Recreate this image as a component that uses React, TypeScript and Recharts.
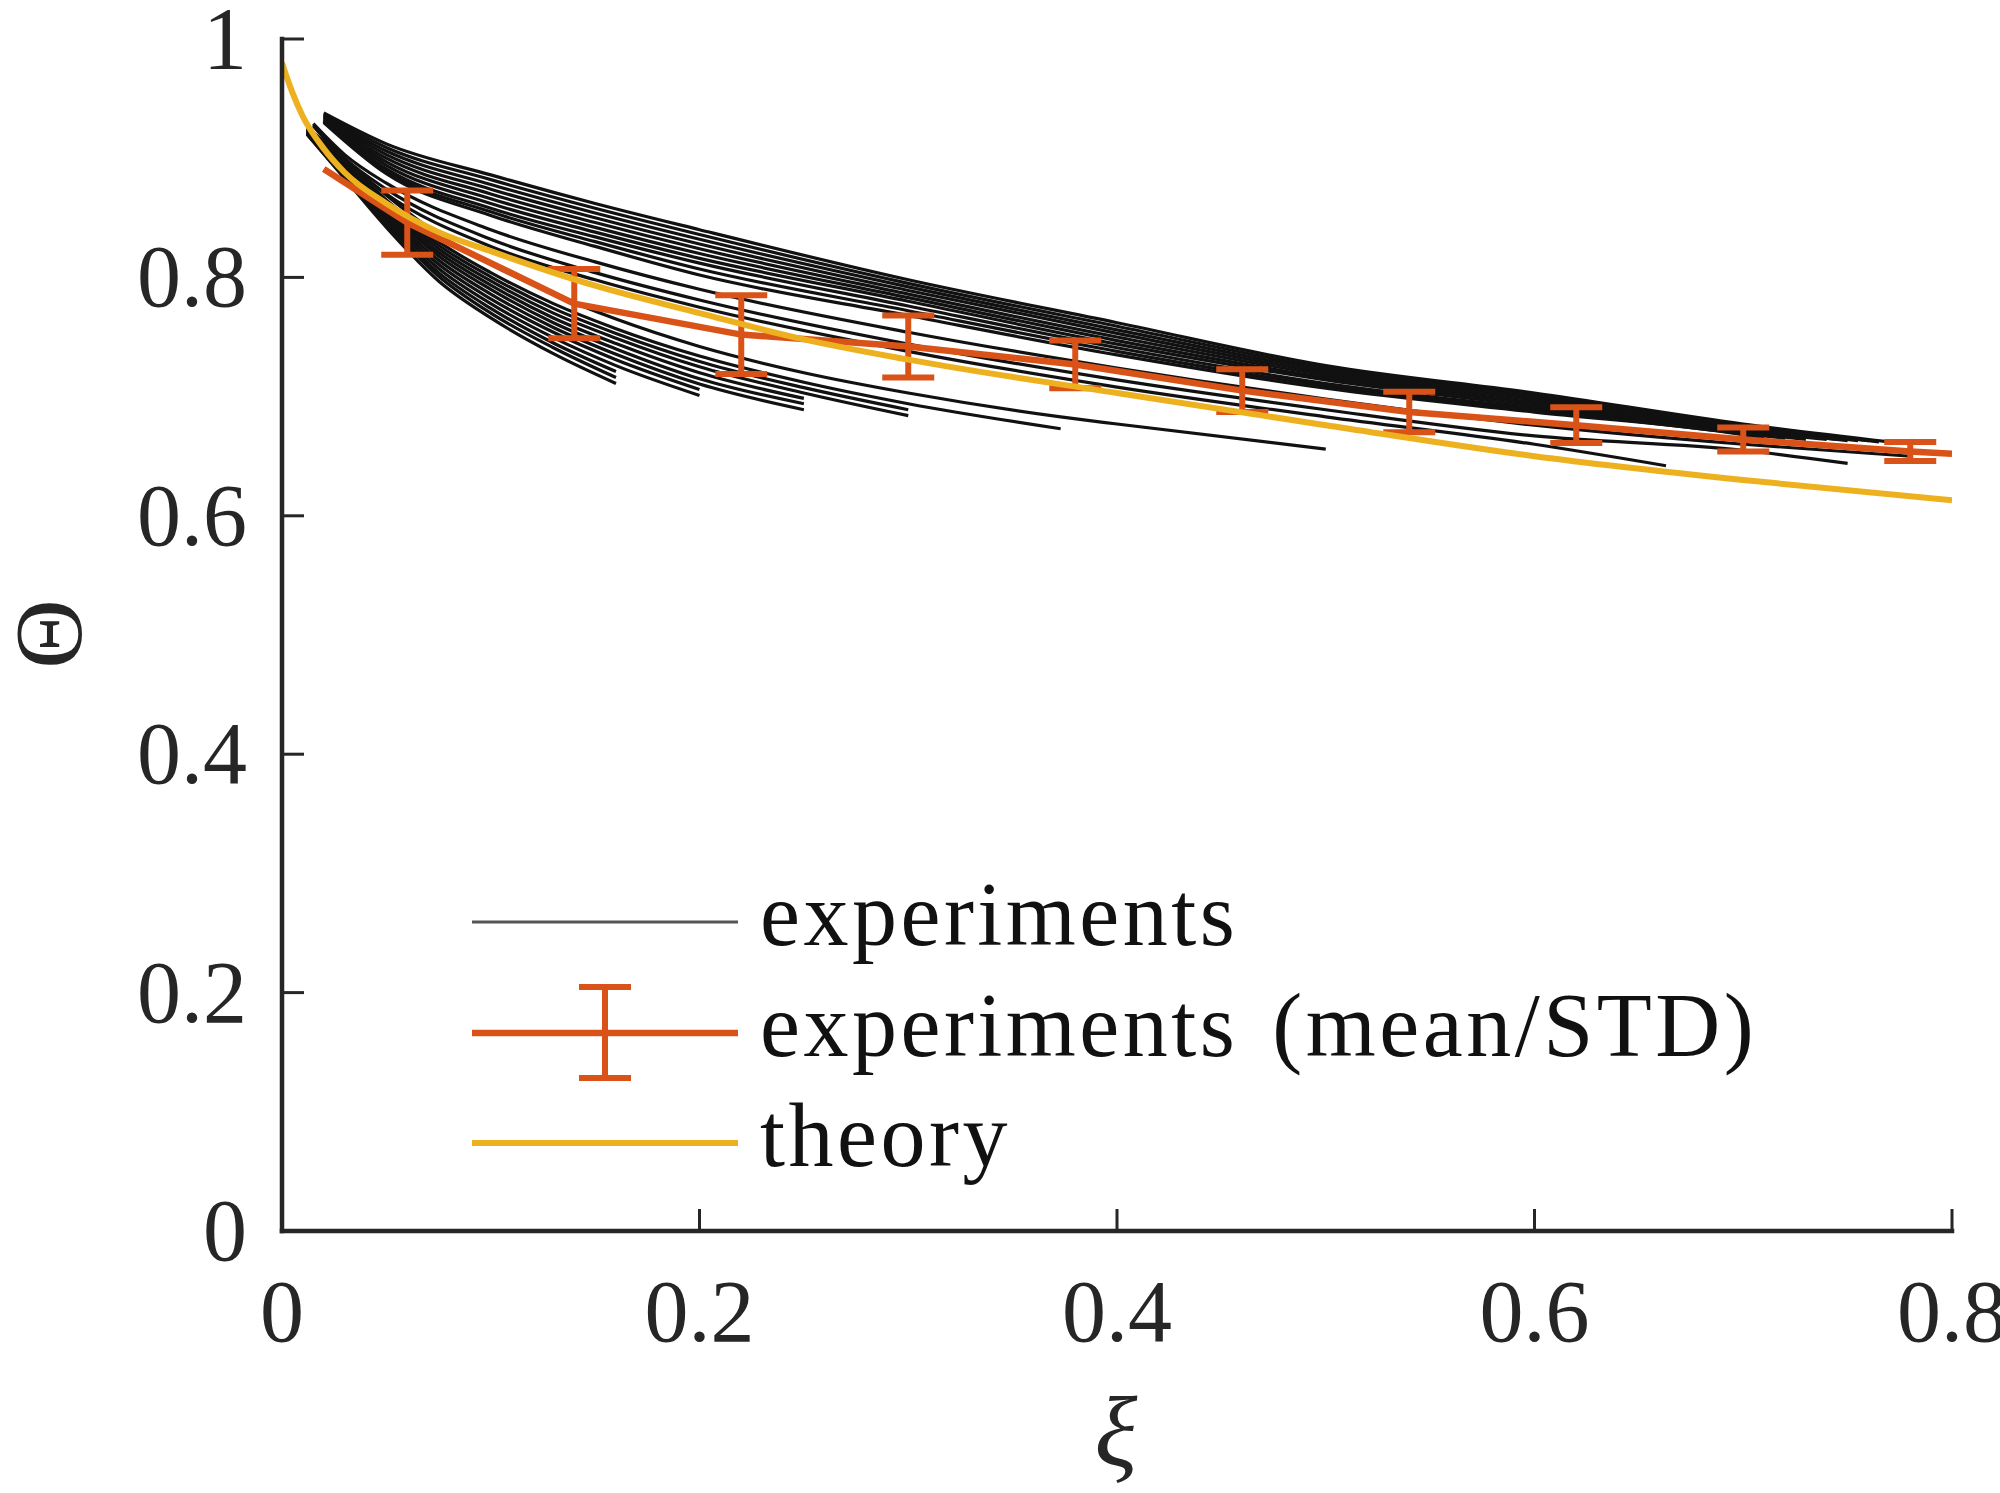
import React from 'react'
import { LineChart, Line, XAxis, YAxis, ErrorBar } from 'recharts'

const FONT = '"Liberation Serif", "Times New Roman", serif'
const AXIS = '#262626'
const ORANGE = '#D95319'
const YELLOW = '#EDB120'
const BLACK = '#111111'

const xTicks = [0, 0.2, 0.4, 0.6, 0.8]
const yTicks = [0, 0.2, 0.4, 0.6, 0.8, 1]

// theory curve
const theoryXi = [0, 0.005, 0.01, 0.02, 0.03, 0.05, 0.075, 0.1, 0.15, 0.2, 0.25, 0.3, 0.4, 0.5, 0.6, 0.7, 0.8]
const theoryTheta = [0.98, 0.955, 0.935, 0.908, 0.888, 0.862, 0.838, 0.822, 0.793, 0.77, 0.748, 0.731, 0.703, 0.676, 0.65, 0.63, 0.613]

// experiments mean / STD
const meanXi = [0.02, 0.06, 0.14, 0.22, 0.3, 0.38, 0.46, 0.54, 0.62, 0.7, 0.78, 0.8]
const meanTheta = [0.891, 0.846, 0.778, 0.752, 0.742, 0.727, 0.705, 0.687, 0.676, 0.664, 0.654, 0.652]
const stdTheta = [null, 0.027, 0.029, 0.033, 0.026, 0.02, 0.018, 0.017, 0.015, 0.01, 0.008, null]

// individual experiments, upper band (long runs)
const upperXi = [0.02, 0.05, 0.1, 0.15, 0.2, 0.3, 0.4, 0.5, 0.6, 0.7]
const upperEndXi = [0.77, 0.765, 0.76, 0.755, 0.75, 0.745, 0.74, 0.73, 0.72, 0.71]
const upperTheta = [
  [0.938, 0.912, 0.886, 0.862, 0.84, 0.798, 0.762, 0.726, 0.703, 0.677, 0.662],
  [0.937, 0.909, 0.882, 0.858, 0.836, 0.795, 0.759, 0.724, 0.701, 0.676, 0.662],
  [0.936, 0.906, 0.878, 0.854, 0.832, 0.792, 0.756, 0.722, 0.699, 0.675, 0.663],
  [0.935, 0.903, 0.874, 0.85, 0.828, 0.789, 0.753, 0.72, 0.697, 0.674, 0.663],
  [0.934, 0.9, 0.87, 0.846, 0.824, 0.786, 0.75, 0.718, 0.695, 0.673, 0.663],
  [0.933, 0.897, 0.866, 0.842, 0.82, 0.783, 0.747, 0.716, 0.694, 0.672, 0.664],
  [0.932, 0.894, 0.862, 0.838, 0.816, 0.78, 0.744, 0.714, 0.692, 0.671, 0.664],
  [0.931, 0.891, 0.858, 0.834, 0.812, 0.776, 0.741, 0.711, 0.69, 0.67, 0.664],
  [0.931, 0.889, 0.855, 0.83, 0.807, 0.772, 0.738, 0.709, 0.689, 0.669, 0.665],
  [0.93, 0.887, 0.852, 0.826, 0.802, 0.768, 0.735, 0.707, 0.687, 0.668, 0.665]
]

// runs close to the theory curve
const nearXi = [
  [0.015, 0.03, 0.05, 0.1, 0.15, 0.2, 0.3, 0.4, 0.5, 0.6, 0.663],
  [0.015, 0.03, 0.05, 0.1, 0.15, 0.2, 0.3, 0.4, 0.5, 0.6, 0.7, 0.75],
  [0.015, 0.03, 0.05, 0.1, 0.15, 0.2, 0.3, 0.4, 0.5, 0.6, 0.7, 0.78]
]
const nearTheta = [
  [0.927, 0.898, 0.87, 0.826, 0.798, 0.775, 0.738, 0.708, 0.683, 0.66, 0.642],
  [0.928, 0.9, 0.874, 0.832, 0.804, 0.781, 0.744, 0.714, 0.689, 0.667, 0.655, 0.644],
  [0.929, 0.903, 0.879, 0.84, 0.813, 0.79, 0.754, 0.724, 0.698, 0.676, 0.66, 0.65]
]

// lower band (short, steep runs)
const lowerXi = [0.012, 0.03, 0.05, 0.075, 0.1, 0.13, 0.16, 0.2, 0.25, 0.3, 0.373, 0.4, 0.5]
const lowerTheta = [
  [0.92, 0.883, 0.842, 0.797, 0.766, 0.736, 0.711],
  [0.9205, 0.884, 0.845, 0.801, 0.77, 0.741, 0.716],
  [0.921, 0.886, 0.847, 0.804, 0.774, 0.745, 0.721],
  [0.9215, 0.8875, 0.8495, 0.8075, 0.778, 0.7495, 0.726, 0.701],
  [0.922, 0.889, 0.852, 0.811, 0.782, 0.754, 0.731, 0.706],
  [0.9225, 0.8905, 0.8545, 0.8145, 0.786, 0.758, 0.7355, 0.7105, 0.689],
  [0.923, 0.892, 0.857, 0.818, 0.79, 0.762, 0.74, 0.715, 0.694],
  [0.9235, 0.8935, 0.859, 0.821, 0.7935, 0.766, 0.7445, 0.72, 0.6985],
  [0.924, 0.895, 0.861, 0.824, 0.797, 0.77, 0.749, 0.725, 0.703, 0.684],
  [0.9245, 0.896, 0.863, 0.827, 0.8005, 0.774, 0.753, 0.7295, 0.7075, 0.689],
  [0.925, 0.897, 0.865, 0.83, 0.804, 0.778, 0.757, 0.734, 0.712, 0.694, 0.673],
  [0.926, 0.899, 0.869, 0.836, 0.811, 0.786, 0.765, 0.742, 0.72, 0.703, 0.683, 0.677, 0.656]
]

const toPoints = (xs: number[], ys: number[]) => ys.map((t, i) => ({ xi: xs[i], theta: t }))

const experiments = [
  ...upperTheta.map((row, i) => toPoints([...upperXi, upperEndXi[i]], row)),
  ...nearTheta.map((row, i) => toPoints(nearXi[i], row)),
  ...lowerTheta.map((row) => toPoints(lowerXi, row))
]
const theory = toPoints(theoryXi, theoryTheta)
const mean = meanXi.map((x, i) => ({ xi: x, theta: meanTheta[i], std: stdTheta[i] }))

const BottomTick = (props: any) => {
  const { x, y, payload } = props
  return (
    <g>
      <line x1={x} y1={y} x2={x} y2={y - 22} stroke={AXIS} strokeWidth={3} />
      <text x={x} y={y + 110} textAnchor="middle" fontSize={88} fontFamily={FONT} fill={AXIS}>
        {String(payload.value)}
      </text>
    </g>
  )
}

const LeftTick = (props: any) => {
  const { x, y, payload } = props
  return (
    <g>
      <line x1={x} y1={y} x2={x + 22} y2={y} stroke={AXIS} strokeWidth={3} />
      <text x={x - 35} y={y + 29} textAnchor="end" fontSize={88} fontFamily={FONT} fill={AXIS}>
        {String(payload.value)}
      </text>
    </g>
  )
}

const TopTick = (props: any) => (
  <line x1={props.x} y1={props.y} x2={props.x} y2={props.y + 22} stroke={AXIS} strokeWidth={3} />
)

const RightTick = (props: any) => (
  <line x1={props.x} y1={props.y} x2={props.x - 22} y2={props.y} stroke={AXIS} strokeWidth={3} />
)

const axisLine = { stroke: AXIS, strokeWidth: 4.5, strokeLinecap: 'square' as const }

export default function App() {
  return (
    <div style={{ position: 'relative', width: 2000, height: 1493, background: '#fff' }}>
      <style>{'body{margin:0}'}</style>
      <LineChart width={2000} height={1493} margin={{ top: 39, right: 48, bottom: 0, left: 0 }}>
        <XAxis
          xAxisId="b"
          dataKey="xi"
          type="number"
          domain={[0, 0.8]}
          ticks={xTicks}
          interval={0}
          allowDataOverflow
          height={262}
          tickSize={0}
          tickMargin={0}
          tickLine={false}
          axisLine={axisLine}
          tick={<BottomTick />}
        />
        <XAxis
          xAxisId="t"
          orientation="top"
          dataKey="xi"
          type="number"
          domain={[0, 0.8]}
          ticks={xTicks}
          interval={0}
          allowDataOverflow
          height={0}
          tickSize={0}
          tickMargin={0}
          tickLine={false}
          axisLine={axisLine}
          tick={<TopTick />}
        />
        <YAxis
          yAxisId="l"
          type="number"
          domain={[0, 1]}
          ticks={yTicks}
          interval={0}
          allowDataOverflow
          width={282}
          tickSize={0}
          tickMargin={0}
          tickLine={false}
          axisLine={axisLine}
          tick={<LeftTick />}
        />
        <YAxis
          yAxisId="r"
          orientation="right"
          type="number"
          domain={[0, 1]}
          ticks={yTicks}
          interval={0}
          allowDataOverflow
          width={0}
          tickSize={0}
          tickMargin={0}
          tickLine={false}
          axisLine={axisLine}
          tick={<RightTick />}
        />
        {experiments.map((pts, i) => (
          <Line
            key={i}
            xAxisId="b"
            yAxisId="l"
            data={pts}
            dataKey="theta"
            type="monotone"
            stroke={BLACK}
            strokeWidth={3.2}
            dot={false}
            isAnimationActive={false}
          />
        ))}
        <Line
          xAxisId="b"
          yAxisId="l"
          data={mean}
          dataKey="theta"
          type="linear"
          stroke={ORANGE}
          strokeWidth={6.5}
          dot={false}
          isAnimationActive={false}
        >
          <ErrorBar dataKey="std" direction="y" width={26} stroke={ORANGE} strokeWidth={6} isAnimationActive={false} />
        </Line>
        <Line
          xAxisId="t"
          yAxisId="r"
          data={theory}
          dataKey="theta"
          type="monotone"
          stroke={YELLOW}
          strokeWidth={6}
          dot={false}
          isAnimationActive={false}
        />
      </LineChart>
      <svg width={2000} height={1493} style={{ position: 'absolute', left: 0, top: 0, pointerEvents: 'none' }}>
        <text
          x={48}
          y={634}
          transform="rotate(-90 48 634)"
          textAnchor="middle"
          dominantBaseline="central"
          fontSize={96}
          fontFamily={FONT}
          fill={AXIS}
        >
          Θ
        </text>
        <text x={1116} y={1465} textAnchor="middle" fontSize={100} fontStyle="italic" fontFamily={FONT} fill={AXIS}>
          ξ
        </text>
        <g fontFamily={FONT} fontSize={90} fill="#111" letterSpacing={3.5} wordSpacing={8}>
          <line x1={472} y1={922} x2={738} y2={922} stroke="#555" strokeWidth={3} />
          <text x={760} y={945}>experiments</text>
          <line x1={472} y1={1033} x2={738} y2={1033} stroke={ORANGE} strokeWidth={6.5} />
          <line x1={605} y1={987} x2={605} y2={1078} stroke={ORANGE} strokeWidth={6} />
          <line x1={579} y1={987} x2={631} y2={987} stroke={ORANGE} strokeWidth={6} />
          <line x1={579} y1={1078} x2={631} y2={1078} stroke={ORANGE} strokeWidth={6} />
          <text x={760} y={1056}>experiments (mean/STD)</text>
          <line x1={472} y1={1143} x2={738} y2={1143} stroke={YELLOW} strokeWidth={6} />
          <text x={760} y={1166}>theory</text>
        </g>
      </svg>
    </div>
  )
}
